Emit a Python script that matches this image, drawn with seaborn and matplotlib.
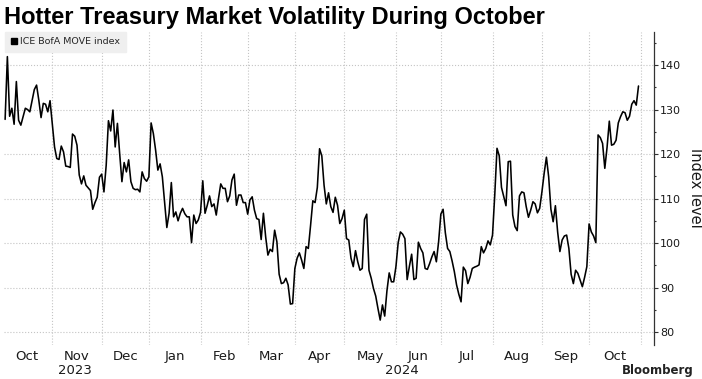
import numpy as np
import pandas as pd
import seaborn as sns
import matplotlib.pyplot as plt
import matplotlib.transforms as mtransforms
from matplotlib import font_manager
from matplotlib.lines import Line2D
from matplotlib.ticker import MultipleLocator

TITLE = 'Hotter Treasury Market Volatility During October'
SERIES_NAME = 'ICE BofA MOVE index'
Y_LABEL = 'Index level'

# daily closes, one list per calendar month
oct_2023 = [127.8, 141.9, 128.5, 130.3, 126.7, 136.3, 127.6, 126.5, 128.4, 130.3, 130.0,
            129.5, 132.0, 134.5, 135.5, 132.1, 128.2, 131.4, 131.2, 129.5, 132.0]
nov_2023 = [126.9, 121.6, 119.0, 118.8, 121.8, 120.5, 117.3, 117.2, 117.0, 124.5, 124.0,
            122.0, 115.3, 113.3, 115.1, 113.0, 112.4, 111.8, 107.6, 109.1, 110.3, 114.8]
dec_2023 = [115.5, 111.5, 117.5, 127.5, 125.2, 129.9, 121.6, 126.9, 120.1, 113.8, 118.1,
            116.0, 118.7, 113.8, 112.3, 112.0, 112.1, 111.5, 116.0, 114.5, 113.9]
jan_2024 = [114.9, 127.0, 124.6, 120.9, 116.4, 117.8, 114.9, 109.3, 103.5, 106.7, 113.6,
            105.9, 107.0, 105.0, 106.7, 107.8, 106.6, 105.9, 105.9, 100.1, 106.3, 104.4, 105.2]
feb_2024 = [106.9, 114.0, 106.7, 108.5, 110.6, 108.2, 108.8, 106.3, 110.0, 113.3, 112.3,
            112.3, 109.3, 110.6, 114.2, 115.5, 108.5, 110.8, 110.8, 109.1, 109.1]
mar_2024 = [106.5, 109.7, 110.4, 107.4, 105.5, 105.3, 100.8, 106.7, 101.4, 97.3, 98.6,
            98.1, 102.9, 100.3, 93.0, 90.9, 91.1, 92.1, 90.6, 86.3, 86.4]
apr_2024 = [94.3, 96.6, 97.8, 96.2, 94.3, 99.2, 98.8, 104.0, 109.5, 109.1, 112.5,
            121.2, 119.6, 113.0, 108.8, 111.3, 108.2, 106.9, 110.3, 108.5, 104.4, 105.5]
may_2024 = [107.4, 101.0, 100.7, 96.6, 94.7, 98.3, 95.8, 93.9, 94.3, 105.3, 106.5, 93.9,
            92.1, 89.8, 88.1, 85.3, 82.7, 86.1, 83.6, 89.3, 93.3, 91.3, 91.3]
jun_2024 = [94.7, 100.1, 102.5, 102.0, 101.0, 91.8, 94.8, 97.5, 91.8, 92.1, 100.2,
            98.8, 97.8, 94.3, 94.1, 95.4, 96.9, 98.1, 95.8, 100.3]
jul_2024 = [106.5, 107.6, 102.3, 98.8, 98.1, 96.0, 93.6, 90.6, 88.5, 86.8, 94.6, 93.8,
            90.9, 92.3, 94.3, 94.6, 94.8, 95.1, 99.2, 97.8, 98.8, 100.5, 99.6]
aug_2024 = [101.8, 110.8, 121.3, 119.6, 112.5, 110.4, 108.4, 118.3, 118.4, 106.3, 103.7,
            102.8, 110.6, 111.5, 111.3, 108.2, 105.8, 107.4, 109.3, 108.8, 106.8, 107.8]
sep_2024 = [111.5, 115.7, 119.3, 114.9, 107.6, 104.8, 108.4, 102.5, 98.1, 100.7, 101.6,
            101.8, 98.8, 93.0, 90.9, 93.9, 93.2, 91.7, 90.2, 92.3, 94.7]
oct_2024 = [104.3, 102.5, 101.6, 100.1, 124.3, 123.7, 122.4, 116.8, 121.5, 127.4, 122.0,
            122.2, 123.1, 127.0, 128.4, 129.5, 129.3, 127.6, 128.5, 131.2, 132.0, 131.0, 135.3]

monthly_values = [oct_2023, nov_2023, dec_2023, jan_2024, feb_2024, mar_2024, apr_2024,
                  may_2024, jun_2024, jul_2024, aug_2024, sep_2024, oct_2024]
first_day, last_day = '2023-10-03', '2024-10-31'
year_labels = ['2023', '2024']

sns.set_style('white')
plt.rcParams['font.family'] = ['DejaVu Sans']
installed = {f.name for f in font_manager.fontManager.ttflist}
tick_font = 'Liberation Sans Narrow' if 'Liberation Sans Narrow' in installed else 'DejaVu Sans'

days = pd.bdate_range(first_day, last_day)
per_month = days.to_period('M').value_counts().sort_index()
assert list(per_month) == [len(v) for v in monthly_values]

# Bloomberg plots on a trading-day axis, weekends take no room
df = pd.DataFrame({'pos': np.arange(len(days)), 'value': np.concatenate(monthly_values)})

origin = days[0].to_datetime64().astype('datetime64[D]')
month_starts = pd.date_range('2023-10-01', '2024-11-01', freq='MS')
bounds = np.busday_count(origin, month_starts.values.astype('datetime64[D]'))
mids = (bounds[:-1] + bounds[1:]) / 2
month_names = [m.strftime('%b') for m in month_starts[:-1]]

xmin, xmax = -0.5, 288.9
fig = plt.figure(figsize=(7.02, 3.79), dpi=100)
ax = fig.add_axes([4 / 702, 1 - 345 / 379, 650 / 702, 313.3 / 379])
sns.lineplot(data=df, x='pos', y='value', color='black', linewidth=1.15, ax=ax)

ax.set_xlim(xmin, xmax)
ax.set_ylim(77.1, 147.5)

# month boundaries carry the grid, month names sit mid-month
ax.set_xticks(bounds[1:])
ax.set_xticklabels([])
ax.set_xticks(mids, minor=True)
ax.set_xticklabels(month_names, minor=True, fontsize=9.5, family=tick_font, color='#1a1a1a')
ax.tick_params(axis='x', which='both', length=0, pad=3.5)
ax.set_xlabel('')

jan_pos = bounds[3]
year_x = [(bounds[0] + jan_pos) / 2, (jan_pos + xmax) / 2]
trans = mtransforms.blended_transform_factory(ax.transData, ax.transAxes)
for x, lab in zip(year_x, year_labels):
    ax.text(x, -0.062, lab, transform=trans, ha='center', va='top',
            fontsize=9.5, family=tick_font, color='#1a1a1a')

ax.yaxis.tick_right()
ax.yaxis.set_label_position('right')
ax.yaxis.set_major_locator(MultipleLocator(10))
ax.yaxis.set_minor_locator(MultipleLocator(5))
ax.tick_params(axis='y', which='major', length=3, width=0.8, pad=1.5,
               labelsize=8, colors='#333333', labelcolor='#1a1a1a')
ax.tick_params(axis='y', which='minor', length=1.5, width=0.8, colors='#333333')
ax.set_ylabel(Y_LABEL, rotation=270, va='bottom', fontsize=10.5, color='#1a1a1a', labelpad=5)

for side in ['top', 'left', 'bottom']:
    ax.spines[side].set_visible(False)
ax.spines['right'].set_color('#333333')
ax.spines['right'].set_linewidth(0.9)

ax.grid(True, which='major', axis='both', linestyle=':', color='#c4c4c4', linewidth=0.8)
ax.set_axisbelow(True)

handle = Line2D([], [], marker='s', color='black', linestyle='none', markersize=5)
ax.legend([handle], [SERIES_NAME], loc='upper left', bbox_to_anchor=(0.0015, 1.0),
          borderaxespad=0, frameon=True, fancybox=False, facecolor='#efefef',
          edgecolor='#efefef', framealpha=1, fontsize=6.8, handlelength=0.7,
          handletextpad=0.3, borderpad=0.6)

fig.text(4 / 702, 1 - 24 / 379, TITLE, fontsize=17, fontweight='bold',
         family='Liberation Sans', va='baseline', ha='left', color='black')
fig.text(622 / 702, 2 / 379, 'Bloomberg', fontsize=8.5, fontweight='bold',
         va='bottom', ha='left', color='#222222')

fig.savefig('out.png', dpi=100)
